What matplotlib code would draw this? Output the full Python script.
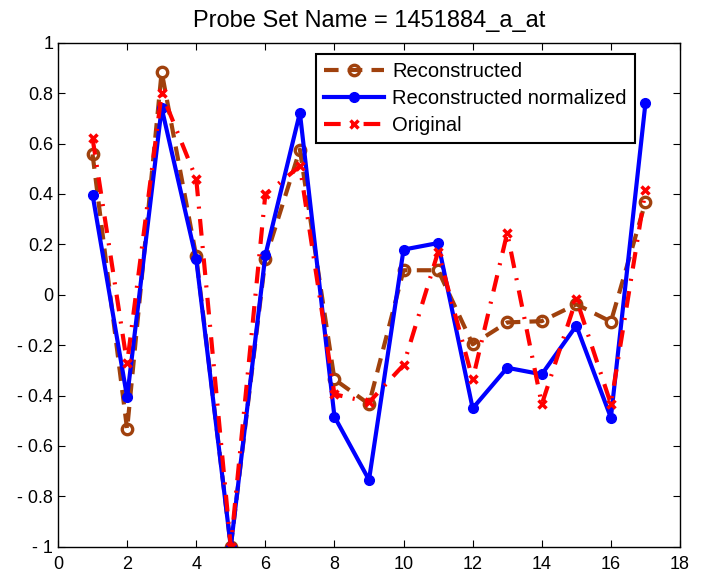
import matplotlib
matplotlib.use("Agg")
import matplotlib.pyplot as plt
import numpy as np

x = list(range(1, 18))
reconstructed = [0.557, -0.534, 0.885, 0.152, -1.0, 0.141, 0.576, -0.336, -0.434, 0.097,
                 0.097, -0.197, -0.11, -0.105, -0.038, -0.107, 0.367]
reconstructed_norm = [0.397, -0.407, 0.741, 0.141, -1.0, 0.156, 0.722, -0.484, -0.735, 0.179,
                      0.205, -0.451, -0.29, -0.316, -0.123, -0.488, 0.76]
original = [0.621, -0.273, 0.80, 0.46, -1.0, 0.398, 0.51, -0.395, -0.427, -0.279,
            0.17, -0.336, 0.245, -0.435, -0.017, -0.434, 0.414]

title = "Probe Set Name = 1451884_a_at"
xticks = [0, 2, 4, 6, 8, 10, 12, 14, 16, 18]
yticks = [-1, -0.8, -0.6, -0.4, -0.2, 0, 0.2, 0.4, 0.6, 0.8, 1]
yticklabels = ["- 1", "- 0.8", "- 0.6", "- 0.4", "- 0.2", "0", "0.2", "0.4", "0.6", "0.8", "1"]

plt.rcParams['font.family'] = ['Liberation Sans', 'DejaVu Sans']

fig = plt.figure(figsize=(7.11, 5.78), dpi=100)
ax = fig.add_axes([58 / 711, (578 - 546.7) / 578, 622 / 711, 504 / 578])

brown = '#a0410d'
ax.plot(x, reconstructed, linestyle='--', color=brown, linewidth=3, marker='o',
        markersize=7.5, markerfacecolor='none', markeredgewidth=2.4, dashes=(3.5, 2.2),
        label='Reconstructed')
ax.plot(x, reconstructed_norm, linestyle='-', color='blue', linewidth=3, marker='o',
        markersize=7, markerfacecolor='blue', markeredgecolor='blue',
        label='Reconstructed normalized')
ax.plot(x, original, linestyle='-.', color='red', linewidth=3, marker='x',
        markersize=6, markeredgewidth=2.5, dashes=(4, 2.5, 0.5, 2.5),
        label='Original')

ax.set_xlim(0, 18)
ax.set_ylim(-1, 1)
ax.set_xticks(xticks)
ax.set_yticks(yticks)
ax.set_yticklabels(yticklabels)
ax.tick_params(direction='in', top=True, right=True, length=5, labelsize=13, width=0.8)
ax.tick_params(axis='x', pad=6.5)
ax.tick_params(axis='y', pad=3.5)
for s in ax.spines.values():
    s.set_linewidth(1.0)
ax.set_title(title, fontsize=17, pad=11)

leg = ax.legend(loc='upper right', bbox_to_anchor=(0.9277, 0.9776), borderaxespad=0,
                fancybox=False, edgecolor='black', fontsize=14.5, handlelength=3.0,
                framealpha=1, borderpad=0.4, labelspacing=0.4, handletextpad=0.4)
leg.get_frame().set_linewidth(1.5)

fig.savefig("out.png", dpi=100)
